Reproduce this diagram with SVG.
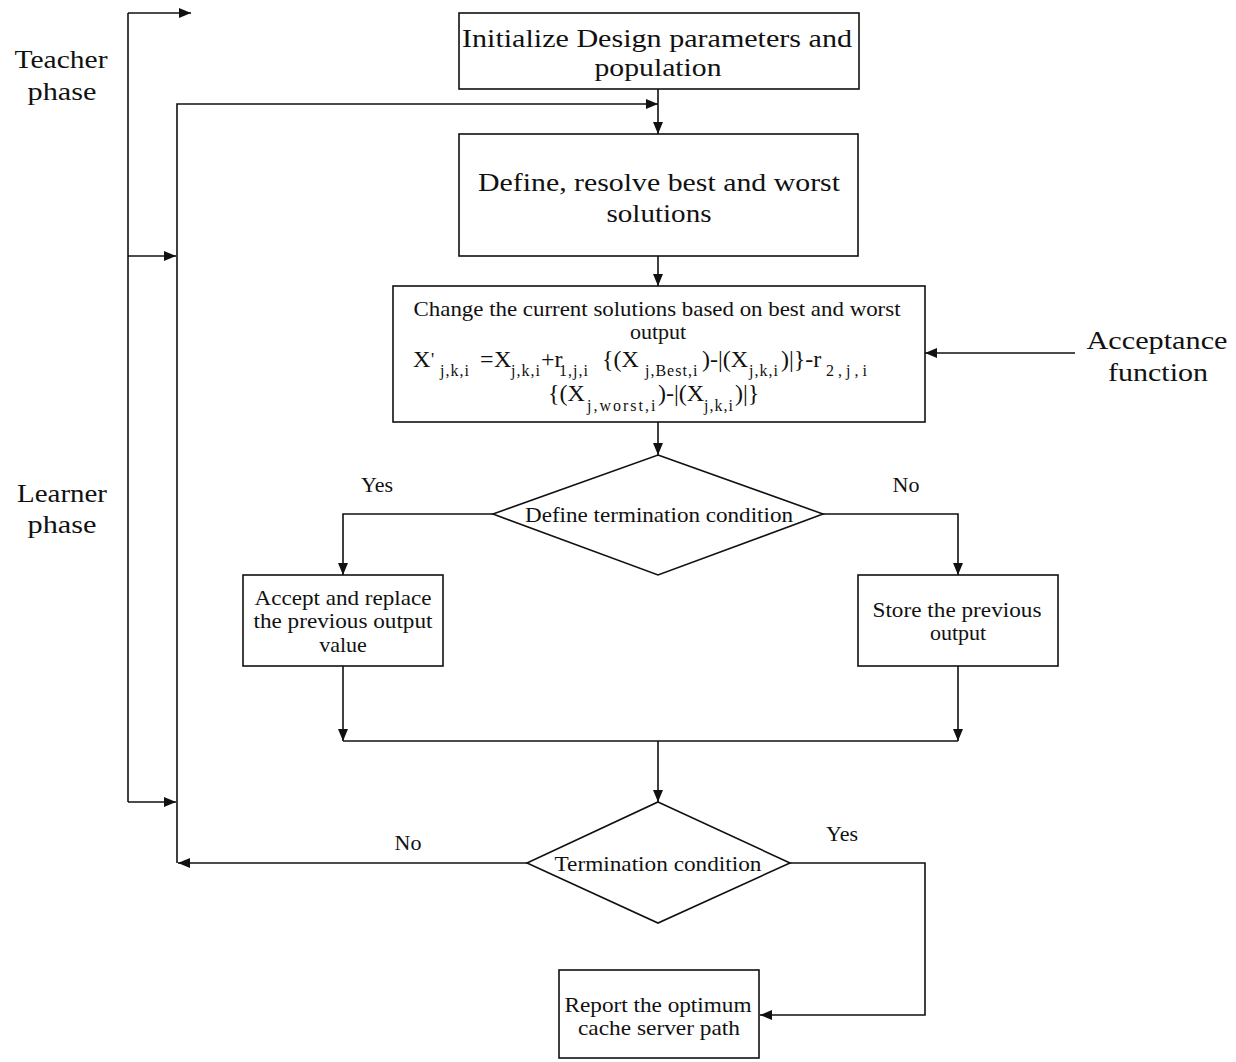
<svg xmlns="http://www.w3.org/2000/svg" width="1236" height="1062" viewBox="0 0 1236 1062">
<style>
.box{fill:#fff;stroke:#111;stroke-width:1.6}
.ln{fill:none;stroke:#111;stroke-width:1.6}
.arr{fill:none;stroke:#111;stroke-width:1.6;marker-end:url(#ah)}
text{font-family:"Liberation Serif","Times New Roman",serif;fill:#111}
.t26{font-size:26px;text-anchor:middle}
.t22{font-size:22px;text-anchor:middle}
.m{font-size:24px}
.s{font-size:16px;letter-spacing:1px}
</style>
<defs>
<marker id="ah" markerUnits="userSpaceOnUse" markerWidth="13" markerHeight="11" refX="12" refY="5" orient="auto">
<path d="M0,0 L12,5 L0,10 z" fill="#111"/>
</marker>
</defs>
<rect width="1236" height="1062" fill="#fff"/>

<g id="connectors">
<line class="ln" x1="128" y1="13" x2="128" y2="802"/>
<line class="arr" x1="128" y1="13" x2="191" y2="13"/>
<line class="arr" x1="128" y1="256" x2="176" y2="256"/>
<line class="arr" x1="128" y1="802" x2="176" y2="802"/>
<polyline class="arr" points="177,863 177,104 658,104"/>
<line class="arr" x1="658" y1="89" x2="658" y2="134"/>
<line class="arr" x1="658" y1="256" x2="658" y2="286"/>
<line class="arr" x1="658" y1="422" x2="658" y2="455"/>
<line class="arr" x1="1075" y1="353" x2="925" y2="353"/>
<polyline class="arr" points="493,514 343,514 343,575"/>
<polyline class="arr" points="823,514 958,514 958,575"/>
<line class="arr" x1="343" y1="666" x2="343" y2="741"/>
<line class="arr" x1="958" y1="666" x2="958" y2="741"/>
<line class="ln" x1="343" y1="741" x2="958" y2="741"/>
<line class="arr" x1="658" y1="741" x2="658" y2="802"/>
<polyline class="arr" points="790,863 925,863 925,1015 760,1015"/>
<line class="arr" x1="527" y1="863" x2="178" y2="863"/>
<text class="t22" x="377" y="492">Yes</text>
<text class="t22" x="906" y="492">No</text>
<text class="t22" x="842" y="841">Yes</text>
<text class="t22" x="408" y="850">No</text>
</g>

<g id="teacher-label">
<text class="t26" x="61" y="68" textLength="93" lengthAdjust="spacingAndGlyphs">Teacher</text>
<text class="t26" x="62" y="100" textLength="69" lengthAdjust="spacingAndGlyphs">phase</text>
</g>
<g id="learner-label">
<text class="t26" x="62" y="502" textLength="90" lengthAdjust="spacingAndGlyphs">Learner</text>
<text class="t26" x="62" y="533" textLength="69" lengthAdjust="spacingAndGlyphs">phase</text>
</g>
<g id="acceptance-label">
<text class="t26" x="1157" y="349" textLength="141" lengthAdjust="spacingAndGlyphs">Acceptance</text>
<text class="t26" x="1158" y="381" textLength="100" lengthAdjust="spacingAndGlyphs">function</text>
</g>

<g id="init">
<rect class="box" x="459" y="13" width="400" height="76"/>
<text class="t26" x="657" y="47" textLength="390" lengthAdjust="spacingAndGlyphs">Initialize Design parameters and</text>
<text class="t26" x="658" y="76" textLength="127" lengthAdjust="spacingAndGlyphs">population</text>
</g>

<g id="define">
<rect class="box" x="459" y="134" width="399" height="122"/>
<text class="t26" x="659" y="191" textLength="362" lengthAdjust="spacingAndGlyphs">Define, resolve best and worst</text>
<text class="t26" x="659" y="222" textLength="105" lengthAdjust="spacingAndGlyphs">solutions</text>
</g>

<g id="change">
<rect class="box" x="393" y="286" width="532" height="136"/>
<text style="font-size:22px;text-anchor:middle" x="657" y="316" textLength="487" lengthAdjust="spacingAndGlyphs">Change the current solutions based on best and worst</text>
<text style="font-size:22px;text-anchor:middle" x="658" y="339">output</text>
<text><tspan class="m" x="413" y="367">X</tspan><tspan style="font-size:18px" x="431" y="366">'</tspan><tspan class="s" x="440" y="376">j,k,i</tspan><tspan class="m" x="480" y="367">=</tspan><tspan class="m" x="494" y="367">X</tspan><tspan class="s" x="511" y="376">j,k,i</tspan><tspan class="m" x="541" y="367">+r</tspan><tspan class="s" x="559" y="376">1,j,i</tspan><tspan class="m" x="602" y="367">{(X</tspan><tspan class="s" x="645" y="376">j,Best,i</tspan><tspan class="m" x="702" y="367">)-|(X</tspan><tspan class="s" x="749" y="376">j,k,i</tspan><tspan class="m" x="781" y="367">)|}-r</tspan><tspan class="s" x="826" y="376" style="letter-spacing:4px">2,j,i</tspan></text>
<text><tspan class="m" x="548" y="401">{(X</tspan><tspan class="s" x="587" y="411" style="letter-spacing:2px">j,worst,i</tspan><tspan class="m" x="658" y="401">)-|(X</tspan><tspan class="s" x="704" y="411">j,k,i</tspan><tspan class="m" x="735" y="401">)|}</tspan></text>
</g>

<g id="decision1">
<polygon class="box" points="658,455 823,514 658,575 493,514"/>
<text class="t22" x="659" y="522" textLength="268" lengthAdjust="spacingAndGlyphs">Define termination condition</text>
</g>

<g id="accept">
<rect class="box" x="243" y="575" width="200" height="91"/>
<text class="t22" x="343" y="605" textLength="177" lengthAdjust="spacingAndGlyphs">Accept and replace</text>
<text class="t22" x="343" y="628" textLength="179" lengthAdjust="spacingAndGlyphs">the previous output</text>
<text class="t22" x="343" y="652">value</text>
</g>

<g id="store">
<rect class="box" x="858" y="575" width="200" height="91"/>
<text class="t22" x="957" y="617" textLength="169" lengthAdjust="spacingAndGlyphs">Store the previous</text>
<text class="t22" x="958" y="640">output</text>
</g>

<g id="decision2">
<polygon class="box" points="658,802 790,863 658,923 527,863"/>
<text class="t22" x="658" y="871" textLength="207" lengthAdjust="spacingAndGlyphs">Termination condition</text>
</g>

<g id="report">
<rect class="box" x="559" y="970" width="200" height="88"/>
<text class="t22" x="658" y="1012" textLength="187" lengthAdjust="spacingAndGlyphs">Report the optimum</text>
<text class="t22" x="659" y="1035" textLength="162" lengthAdjust="spacingAndGlyphs">cache server path</text>
</g>
</svg>
